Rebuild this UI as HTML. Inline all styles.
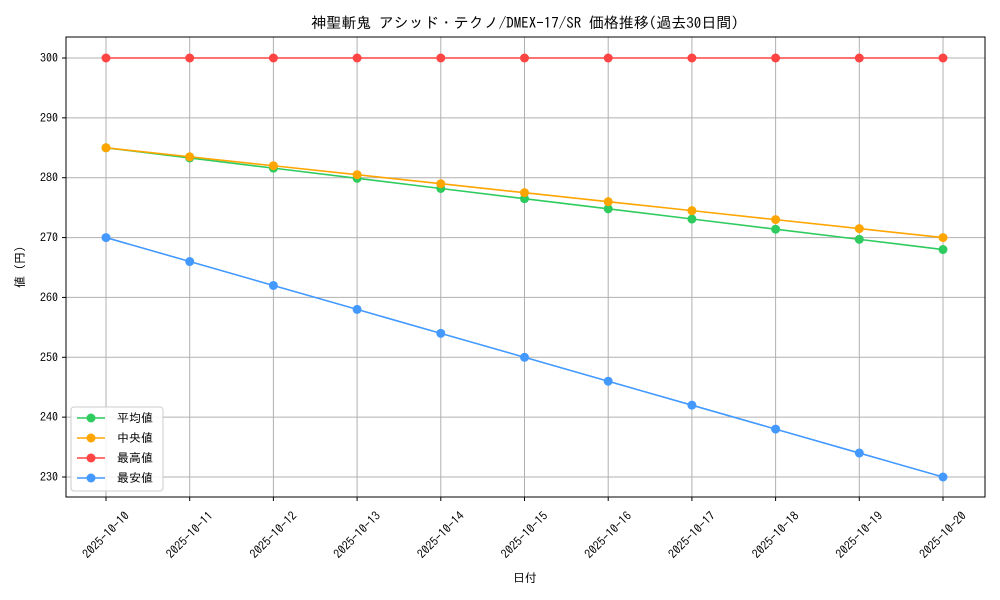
<!DOCTYPE html>
<html><head><meta charset="utf-8">
<style>
html,body{margin:0;padding:0;background:#fff;}
svg{display:block;font-family:"IPAGothic","Noto Sans CJK JP","Liberation Mono",monospace;}
</style></head>
<body>
<svg id="chart" width="1000" height="600" viewBox="0 0 1000 600">
<rect width="1000" height="600" fill="#fff"/>
<text x="525" y="28" text-anchor="middle" font-size="15">神聖斬鬼 アシッド・テクノ/DMEX-17/SR 価格推移(過去30日間)</text>
<g id="grid"></g>
<g id="series"></g>
<rect x="66" y="37" width="919" height="460" fill="none" stroke="#000" stroke-width="1"/>
<g id="axes"></g>
<text x="525" y="582" text-anchor="middle" font-size="12">日付</text>
<text transform="translate(24,267) rotate(-90)" text-anchor="middle" font-size="12">値 (円)</text>
<g id="legend"></g>
</svg>
<script>
const dates=["2025-10-10","2025-10-11","2025-10-12","2025-10-13","2025-10-14","2025-10-15","2025-10-16","2025-10-17","2025-10-18","2025-10-19","2025-10-20"];
const avgVals=[285,283.3,281.6,279.9,278.2,276.5,274.8,273.1,271.4,269.7,268];
const medVals=[285,283.5,282,280.5,279,277.5,276,274.5,273,271.5,270];
const maxVals=[300,300,300,300,300,300,300,300,300,300,300];
const minVals=[270,266,262,258,254,250,246,242,238,234,230];
const yTicks=[230,240,250,260,270,280,290,300];
const seriesNames=["平均値","中央値","最高値","最安値"];

const NS="http://www.w3.org/2000/svg";
const X0=106,X1=943;
function xs(i){return X0+(X1-X0)*i/(dates.length-1);}
function ys(v){return 477+(230-v)*(419/70);}
function mk(tag,attrs,parent){const e=document.createElementNS(NS,tag);for(const k in attrs)e.setAttribute(k,attrs[k]);parent.appendChild(e);return e;}
const grid=document.getElementById('grid'),axes=document.getElementById('axes'),ser=document.getElementById('series'),leg=document.getElementById('legend');
dates.forEach((d,i)=>{
  const x=xs(i);
  const g=mk('line',{x1:x,x2:x,y1:37,y2:497,stroke:'#b0b0b0','stroke-width':1},grid);
  
  
  mk('line',{x1:x,x2:x,y1:497,y2:501,stroke:'#000'},axes);
  const t=mk('text',{x:x,y:539,'font-size':12,'text-anchor':'middle',transform:`rotate(-45 ${x} 535)`},axes);
  t.textContent=d;
  
  
});
yTicks.forEach(v=>{
  const y=ys(v);
  const g=mk('line',{x1:66,x2:985,y1:y,y2:y,stroke:'#b0b0b0','stroke-width':1},grid);
  
  
  mk('line',{x1:62,x2:66,y1:y,y2:y,stroke:'#000'},axes);
  const t=mk('text',{x:58,y:y+4,'font-size':12,'text-anchor':'end'},axes);
  t.textContent=v;
  
  
});
const all=[avgVals,medVals,maxVals,minVals];
const colors=["#2ecc5f","#ffa500","#ff4444","#4499ff"];
const keys=["avg","median","max","min"];
all.forEach((vals,s)=>{
  const g=mk('g',{},ser);
  
  
  const pl=mk('polyline',{points:vals.map((v,i)=>xs(i)+','+ys(v)).join(' '),fill:'none',stroke:colors[s],'stroke-width':1.6},g);
  
  
  vals.forEach((v,i)=>{
    const c=mk('circle',{cx:xs(i),cy:ys(v),r:4.5,fill:colors[s]},g);
    
    
  });
});
const lb=mk('rect',{x:71,y:407,width:92,height:84,rx:3,fill:'#fff','fill-opacity':0.85,stroke:'#ccc'},leg);


seriesNames.forEach((n,s)=>{
  const y=418+s*20;
  const g=mk('g',{},leg);
  
  
  mk('line',{x1:77,x2:105,y1:y,y2:y,stroke:colors[s],'stroke-width':1.6},g);
  mk('circle',{cx:91,cy:y,r:4.5,fill:colors[s]},g);
  const t=mk('text',{x:117,y:y+4,'font-size':12},g);
  t.textContent=n;
});
</script>
</body></html>
